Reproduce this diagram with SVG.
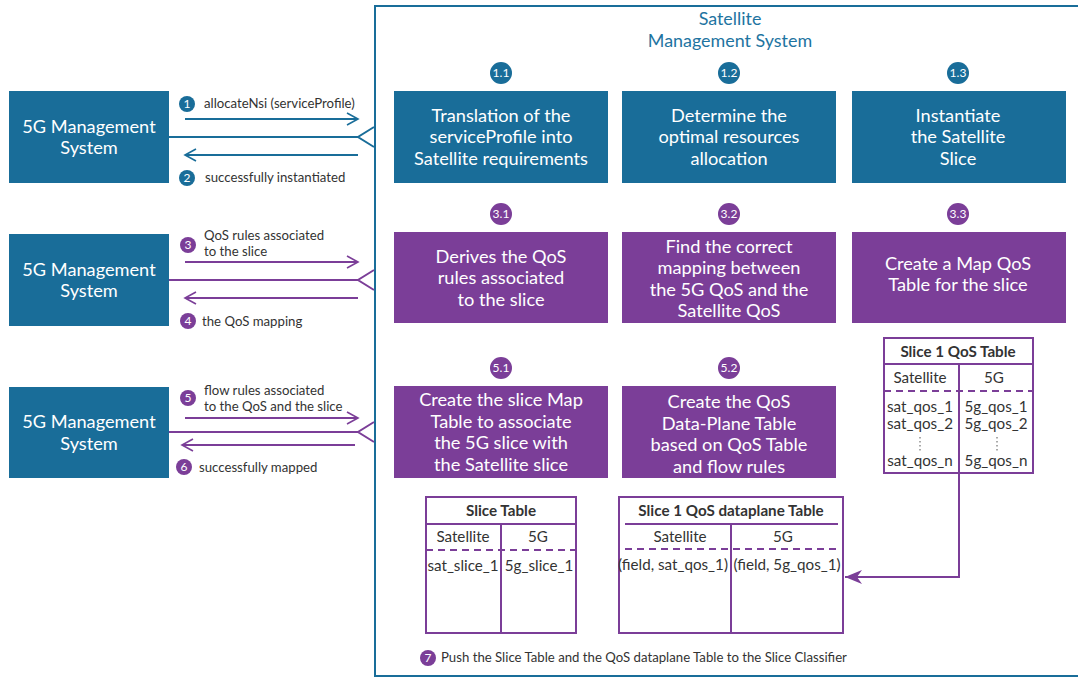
<svg xmlns="http://www.w3.org/2000/svg" width="1078" height="677" viewBox="0 0 1078 677">
<style>
text{font-family:Lato,"Liberation Sans",sans-serif}
.box-b{fill:#196d99}
.box-p{fill:#7b3e98}
.bt{fill:#fff;font-size:18.2px;text-anchor:middle}
.num{fill:#fff;font-size:12px;text-anchor:middle}
.lbl{fill:#333;font-size:13.2px}
.hdr{fill:#1e74a1;font-size:17.9px;text-anchor:middle}
.tt{fill:#333;font-size:15.2px;font-weight:bold;text-anchor:middle}
.tc{fill:#333;font-size:15.2px;text-anchor:middle}
.tbl{fill:#fff;stroke:#7b3e98;stroke-width:2}
.tl{stroke:#7b3e98;stroke-width:2;fill:none}
.dash{stroke:#7b3e98;stroke-width:2;stroke-dasharray:7 5;fill:none}
.lb{stroke:#196d99;stroke-width:2;fill:none}
.lp{stroke:#7b3e98;stroke-width:2;fill:none}
</style>
<defs>
<marker id="ob" markerWidth="14" markerHeight="14" refX="12" refY="7" orient="auto" markerUnits="userSpaceOnUse"><path d="M1,1 L12,7 L1,13" fill="none" stroke="#196d99" stroke-width="1.6"/></marker>
<marker id="op" markerWidth="14" markerHeight="14" refX="12" refY="7" orient="auto" markerUnits="userSpaceOnUse"><path d="M1,1 L12,7 L1,13" fill="none" stroke="#7b3e98" stroke-width="1.6"/></marker>
<marker id="fp" markerWidth="18" markerHeight="14" refX="17" refY="7" orient="auto" markerUnits="userSpaceOnUse"><path d="M0,0 L17,7 L0,14 L5,7 Z" fill="#7b3e98"/></marker>
</defs>
<rect x="0" y="0" width="1078" height="677" fill="#fff"/>

<g id="satellite-frame">
<rect x="375" y="6" width="720" height="670" fill="none" stroke="#196d99" stroke-width="2"/>
<text class="hdr" x="730" y="25">Satellite</text>
<text class="hdr" x="730" y="47">Management System</text>
</g>

<g id="mgmt1"><rect class="box-b" x="9" y="91" width="160" height="92"/><text class="bt" x="89" y="133">5G Management</text><text class="bt" x="89" y="154">System</text></g>
<g id="mgmt2"><rect class="box-b" x="9" y="234" width="160" height="92"/><text class="bt" x="89" y="276">5G Management</text><text class="bt" x="89" y="297">System</text></g>
<g id="mgmt3"><rect class="box-b" x="9" y="387" width="160" height="91"/><text class="bt" x="89" y="428">5G Management</text><text class="bt" x="89" y="450">System</text></g>

<g id="connectors">
<line class="lb" x1="169" y1="137" x2="358" y2="137"/>
<path class="lb" d="M374,127 L358,137 L374,147"/>
<line class="lb" x1="185" y1="119" x2="358" y2="119" marker-end="url(#ob)"/>
<line class="lb" x1="358" y1="155" x2="185" y2="155" marker-end="url(#ob)"/>

<line class="lp" x1="169" y1="280" x2="358" y2="280"/>
<path class="lp" d="M374,270 L358,280 L374,290"/>
<line class="lp" x1="185" y1="262" x2="358" y2="262" marker-end="url(#op)"/>
<line class="lp" x1="358" y1="298" x2="185" y2="298" marker-end="url(#op)"/>

<line class="lp" x1="169" y1="432" x2="358" y2="432"/>
<path class="lp" d="M374,422 L358,432 L374,442"/>
<line class="lp" x1="185" y1="418" x2="358" y2="418" marker-end="url(#op)"/>
<line class="lp" x1="355" y1="445" x2="182" y2="445" marker-end="url(#op)"/>

<path class="lp" d="M959,473 L959,577 L845,577" marker-end="url(#fp)"/>
</g>

<g id="labels">
<circle cx="187" cy="104" r="8" fill="#196d99"/><text class="num" x="187" y="108">1</text>
<text class="lbl" x="204" y="108">allocateNsi (serviceProfile)</text>
<circle cx="187" cy="178" r="8" fill="#196d99"/><text class="num" x="187" y="182">2</text>
<text class="lbl" x="205" y="182">successfully instantiated</text>

<circle cx="188" cy="245" r="8" fill="#7b3e98"/><text class="num" x="188" y="249">3</text>
<text class="lbl" x="204" y="240">QoS rules associated</text>
<text class="lbl" x="204" y="256">to the slice</text>
<circle cx="188" cy="321" r="8" fill="#7b3e98"/><text class="num" x="188" y="325">4</text>
<text class="lbl" x="202" y="326">the QoS mapping</text>

<circle cx="188" cy="398" r="8" fill="#7b3e98"/><text class="num" x="188" y="402">5</text>
<text class="lbl" x="204" y="395">flow rules associated</text>
<text class="lbl" x="204" y="411">to the QoS and the slice</text>
<circle cx="184" cy="467" r="8" fill="#7b3e98"/><text class="num" x="184" y="471">6</text>
<text class="lbl" x="199" y="472">successfully mapped</text>

<circle cx="428" cy="658" r="8" fill="#7b3e98"/><text class="num" x="428" y="662">7</text>
<text class="lbl" x="441" y="662">Push the Slice Table and the QoS dataplane Table to the Slice Classifier</text>
</g>

<g id="s11"><circle cx="501" cy="73" r="11" fill="#196d99"/><text class="num" x="501" y="77">1.1</text>
<rect class="box-b" x="394" y="91" width="214" height="92"/>
<text class="bt" x="501" y="122">Translation of the</text><text class="bt" x="501" y="143">serviceProfile into</text><text class="bt" x="501" y="165">Satellite requirements</text></g>
<g id="s12"><circle cx="729" cy="73" r="11" fill="#196d99"/><text class="num" x="729" y="77">1.2</text>
<rect class="box-b" x="622" y="91" width="214" height="92"/>
<text class="bt" x="729" y="122">Determine the</text><text class="bt" x="729" y="143">optimal resources</text><text class="bt" x="729" y="165">allocation</text></g>
<g id="s13"><circle cx="958" cy="73" r="11" fill="#196d99"/><text class="num" x="958" y="77">1.3</text>
<rect class="box-b" x="852" y="91" width="214" height="92"/>
<text class="bt" x="958" y="122">Instantiate</text><text class="bt" x="958" y="143">the Satellite</text><text class="bt" x="958" y="165">Slice</text></g>

<g id="s31"><circle cx="501" cy="214" r="11" fill="#7b3e98"/><text class="num" x="501" y="218">3.1</text>
<rect class="box-p" x="394" y="232" width="214" height="91"/>
<text class="bt" x="501" y="263">Derives the QoS</text><text class="bt" x="501" y="284">rules associated</text><text class="bt" x="501" y="306">to the slice</text></g>
<g id="s32"><circle cx="729" cy="214" r="11" fill="#7b3e98"/><text class="num" x="729" y="218">3.2</text>
<rect class="box-p" x="622" y="232" width="214" height="91"/>
<text class="bt" x="729" y="253">Find the correct</text><text class="bt" x="729" y="274">mapping between</text><text class="bt" x="729" y="296">the 5G QoS and the</text><text class="bt" x="729" y="317">Satellite QoS</text></g>
<g id="s33"><circle cx="958" cy="214" r="11" fill="#7b3e98"/><text class="num" x="958" y="218">3.3</text>
<rect class="box-p" x="852" y="232" width="214" height="91"/>
<text class="bt" x="958" y="270">Create a Map QoS</text><text class="bt" x="958" y="291">Table for the slice</text></g>

<g id="s51"><circle cx="501" cy="368" r="11" fill="#7b3e98"/><text class="num" x="501" y="372">5.1</text>
<rect class="box-p" x="394" y="386" width="214" height="92"/>
<text class="bt" x="501" y="406">Create the slice Map</text><text class="bt" x="501" y="428">Table to associate</text><text class="bt" x="501" y="449">the 5G slice with</text><text class="bt" x="501" y="471">the Satellite slice</text></g>
<g id="s52"><circle cx="729" cy="368" r="11" fill="#7b3e98"/><text class="num" x="729" y="372">5.2</text>
<rect class="box-p" x="622" y="386" width="214" height="92"/>
<text class="bt" x="729" y="408">Create the QoS</text><text class="bt" x="729" y="430">Data-Plane Table</text><text class="bt" x="729" y="451">based on QoS Table</text><text class="bt" x="729" y="473">and flow rules</text></g>

<g id="qos-table">
<rect class="tbl" x="884" y="338" width="149" height="135"/>
<line class="tl" x1="884" y1="364" x2="1033" y2="364"/>
<line class="tl" x1="959" y1="364" x2="959" y2="473"/>
<line class="dash" x1="884" y1="391" x2="1033" y2="391"/>
<text class="tt" x="958" y="357">Slice 1 QoS Table</text>
<text class="tc" x="920" y="383">Satellite</text><text class="tc" x="994" y="383">5G</text>
<text class="tc" x="920" y="412">sat_qos_1</text><text class="tc" x="996" y="412">5g_qos_1</text>
<text class="tc" x="920" y="429">sat_qos_2</text><text class="tc" x="996" y="429">5g_qos_2</text>
<line x1="920" y1="437" x2="920" y2="453" stroke="#555" stroke-width="1" stroke-dasharray="1.5 2.5"/>
<line x1="997" y1="437" x2="997" y2="453" stroke="#555" stroke-width="1" stroke-dasharray="1.5 2.5"/>
<text class="tc" x="920" y="466">sat_qos_n</text><text class="tc" x="996" y="466">5g_qos_n</text>
</g>

<g id="slice-table">
<rect class="tbl" x="426" y="497" width="150" height="136"/>
<line class="tl" x1="426" y1="524" x2="576" y2="524"/>
<line class="tl" x1="501" y1="524" x2="501" y2="633"/>
<line class="dash" x1="426" y1="550" x2="576" y2="550"/>
<text class="tt" x="501" y="516">Slice Table</text>
<text class="tc" x="463" y="542">Satellite</text><text class="tc" x="538" y="542">5G</text>
<text class="tc" x="463" y="571">sat_slice_1</text><text class="tc" x="539" y="571">5g_slice_1</text>
</g>

<g id="dataplane-table">
<rect class="tbl" x="619" y="497" width="224" height="136"/>
<line class="tl" x1="625" y1="524" x2="838" y2="524"/>
<line class="tl" x1="731" y1="524" x2="731" y2="633"/>
<line class="dash" x1="625" y1="549" x2="838" y2="549"/>
<text class="tt" x="731" y="516">Slice 1 QoS dataplane Table</text>
<text class="tc" x="680" y="542">Satellite</text><text class="tc" x="783" y="542">5G</text>
<text class="tc" x="673" y="570">(field, sat_qos_1)</text><text class="tc" x="787" y="570">(field, 5g_qos_1)</text>
</g>
</svg>
